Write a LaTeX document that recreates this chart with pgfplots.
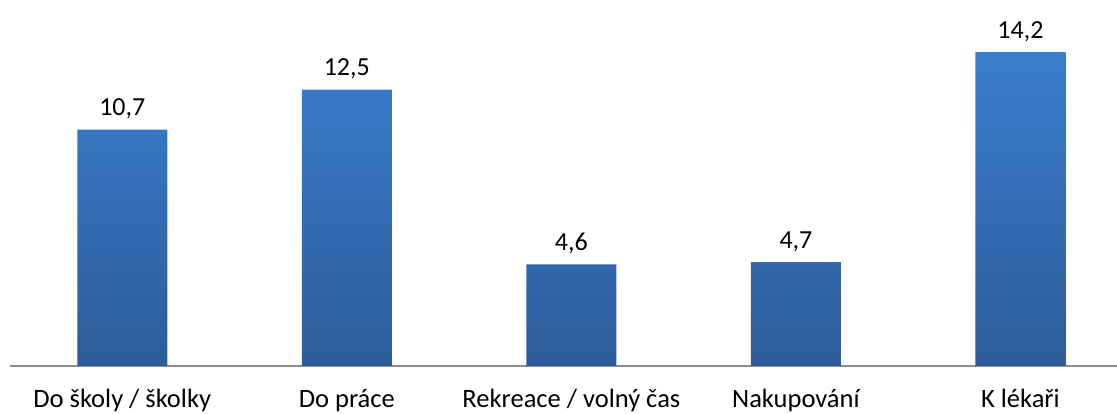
\documentclass[border=0pt]{standalone}
\usepackage{pgfplots}
\pgfplotsset{compat=1.18}
\usepackage{fontspec}
\setmainfont{Carlito}
\definecolor{bartop}{HTML}{3B7DCE}
\definecolor{barbot}{HTML}{2D5C9A}
\definecolor{axisgray}{HTML}{8C8C8C}
\begin{document}
\begin{tikzpicture}
\begin{axis}[
  at={(0,0)}, anchor=south west,
  scale only axis,
  width=1107pt, height=366pt,
  xmin=-0.5, xmax=4.43,
  ymin=0, ymax=16.56,
  axis x line*=bottom,
  axis y line=none,
  x axis line style={-, draw=axisgray, line width=1.3pt},
  xtick=data,
  xticklabels={Do školy / školky, Do práce, Rekreace / volný čas, Nakupování, K lékaři},
  xtick style={draw=none},
  xticklabel style={font=\fontsize{26.5}{30}\selectfont, anchor=base, yshift=-37pt},
  ybar,
  bar width=90pt,
  nodes near coords,
  nodes near coords style={font=\fontsize{26}{30}\selectfont, anchor=base, yshift=14pt,
    /pgf/number format/.cd, fixed, fixed zerofill, precision=1, use comma, assume math mode=true},
  clip=false,
]
\addplot[draw=none, top color=bartop, bottom color=barbot] coordinates {
  (0,10.7) (1,12.5) (2,4.6) (3,4.7) (4,14.2)
};
\end{axis}
\pgfresetboundingbox
\path[use as bounding box] (-10pt,-48pt) rectangle (1107pt,366pt);
\end{tikzpicture}
\end{document}
